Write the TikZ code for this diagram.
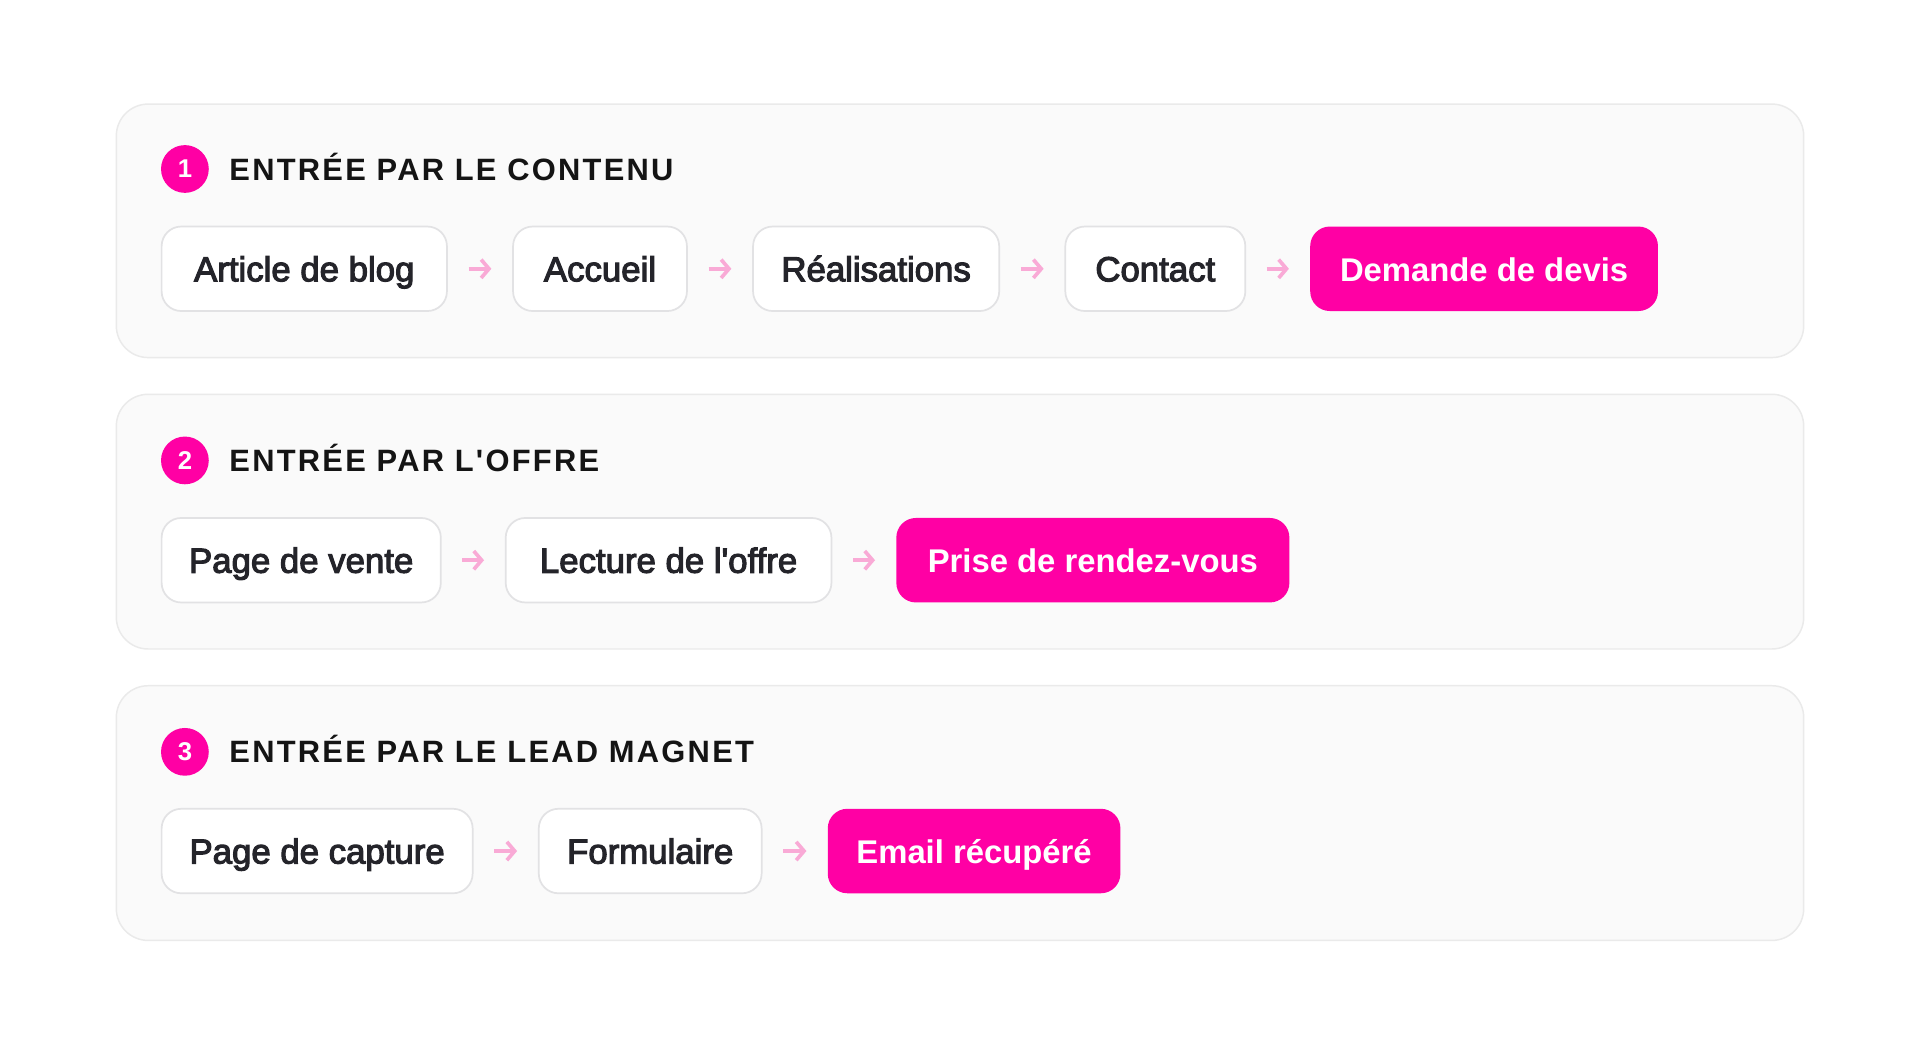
\documentclass[tikz,border=0pt]{standalone}
\usepackage{fontspec}
\setmainfont{Liberation Sans}
\newfontfamily\boxfont[FakeBold=3.2]{Liberation Sans}
\newfontfamily\hotfont{Liberation Sans Bold}
\newfontfamily\titlefont[LetterSpace=7.3]{Liberation Sans Bold}
\usetikzlibrary{arrows.meta,calc}
\definecolor{magenta}{RGB}{255,0,164}
\definecolor{panelfill}{RGB}{250,250,250}
\definecolor{panelline}{RGB}{234,234,234}
\definecolor{boxline}{RGB}{226,226,228}
\definecolor{ink}{RGB}{36,36,42}
\definecolor{arrowpink}{RGB}{249,170,214}
\tikzset{
  panel/.style={fill=panelfill,draw=panelline,line width=0.6pt,rounded corners=13pt},
  badge/.style={circle,fill=magenta,text=white,minimum size=19.5pt,inner sep=0pt,font=\hotfont\fontsize{10.5}{12}\selectfont},
  heading/.style={anchor=base west,inner sep=0pt,text=black!92,font=\titlefont\fontsize{12.6}{14}\selectfont},
  stepbox/.style={draw=boxline,fill=white,line width=0.7pt,rounded corners=8pt,minimum height=34.5pt,inner sep=0pt,text height=13pt,text depth=2.8pt,text=ink,font=\boxfont\fontsize{14.2}{16}\selectfont},
  goalbox/.style={fill=magenta,rounded corners=8pt,minimum height=34.5pt,inner sep=0pt,text height=13pt,text depth=2.8pt,text=white,font=\hotfont\fontsize{13.4}{16}\selectfont},
  flow/.style={draw=arrowpink,line width=1.5pt,-{Straight Barb[length=3.2pt,width=7.5pt,line width=1.5pt]},shorten <=8.5pt,shorten >=8.5pt}
}
\begin{document}
\begin{tikzpicture}[x=0.5pt,y=-0.5pt]
\useasboundingbox (0,0) rectangle (1568,852);
\fill[white] (0,0) rectangle (1568,852);
% panels
\draw[panel] (95,85) rectangle (1473,292);
\draw[panel] (95,322) rectangle (1473,530);
\draw[panel] (95,560) rectangle (1473,768);
% headings
\node[badge] (n1) at (151,138) {1};
\node[heading] (t1) at (187,147) {ENTRÉE PAR LE CONTENU};
\node[badge] (n2) at (151,376) {2};
\node[heading] (t2) at (187,385) {ENTRÉE PAR L'OFFRE};
\node[badge] (n3) at (151,614) {3};
\node[heading] (t3) at (187,623) {ENTRÉE PAR LE LEAD MAGNET};
% row 1
\node[stepbox,minimum width=116.5pt] (a1) at (248.5,219.5) {Article de blog};
\node[stepbox,minimum width=71pt] (a2) at (490,219.5) {Accueil};
\node[stepbox,minimum width=100.5pt] (a3) at (715.5,219.5) {Réalisations};
\node[stepbox,minimum width=73.5pt] (a4) at (943.5,219.5) {Contact};
\node[goalbox,minimum width=142pt] (a5) at (1212,219.5) {Demande de devis};
\draw[flow] (a1) -- (a2);
\draw[flow] (a2) -- (a3);
\draw[flow] (a3) -- (a4);
\draw[flow] (a4) -- (a5);
% row 2
\node[stepbox,minimum width=114pt] (b1) at (246,457.5) {Page de vente};
\node[stepbox,minimum width=133pt] (b2) at (546,457.5) {Lecture de l'offre};
\node[goalbox,minimum width=160.5pt] (b3) at (892.5,457.5) {Prise de rendez-vous};
\draw[flow] (b1) -- (b2);
\draw[flow] (b2) -- (b3);
% row 3
\node[stepbox,minimum width=127pt] (c1) at (259,695) {Page de capture};
\node[stepbox,minimum width=91pt] (c2) at (531,695) {Formulaire};
\node[goalbox,minimum width=119.5pt] (c3) at (795.5,695) {Email récupéré};
\draw[flow] (c1) -- (c2);
\draw[flow] (c2) -- (c3);
\end{tikzpicture}
\end{document}
